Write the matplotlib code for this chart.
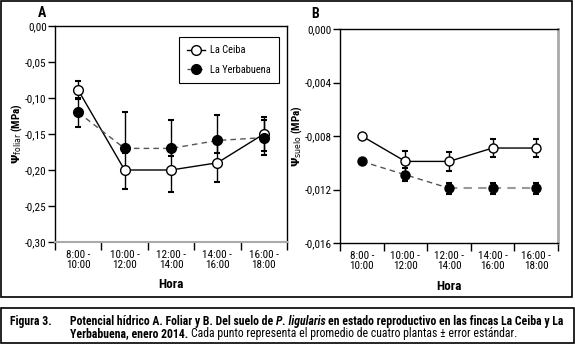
import matplotlib
matplotlib.use("Agg")
import matplotlib.pyplot as plt
from matplotlib import font_manager
from matplotlib.patches import Rectangle
from matplotlib.ticker import FuncFormatter
import numpy as np

hours = ["8:00 -\n10:00", "10:00 -\n12:00", "12:00 -\n14:00", "14:00 -\n16:00", "16:00 -\n18:00"]
series = ["La Ceiba", "La Yerbabuena"]

# A. foliar water potential (MPa)
foliar_ticks = [-0.30, -0.25, -0.20, -0.15, -0.10, -0.05, 0.0]
ceiba_foliar = [-0.089, -0.200, -0.200, -0.190, -0.150]
ceiba_foliar_err = [0.012, 0.027, 0.030, 0.026, 0.024]
yerba_foliar = [-0.120, -0.170, -0.170, -0.159, -0.155]
yerba_foliar_err_lo = [0.020, 0.006, 0.011, 0.017, 0.024]
yerba_foliar_err_hi = [0.020, 0.050, 0.040, 0.035, 0.024]

# B. soil water potential (MPa)
suelo_ticks = [-0.016, -0.012, -0.008, -0.004, 0.0]
ceiba_suelo = [-0.0080, -0.0099, -0.0099, -0.0089, -0.0089]
ceiba_suelo_err = [0.0, 0.0008, 0.0007, 0.0007, 0.0007]
yerba_suelo = [-0.0099, -0.0109, -0.0119, -0.0119, -0.0119]
yerba_suelo_err = [0.0, 0.0005, 0.0004, 0.0004, 0.0004]

# pick a narrow font if one is installed
names = {f.name for f in font_manager.fontManager.ttflist}
cands = ["Liberation Sans Narrow", "Noto Sans Condensed", "Roboto Condensed",
         "Open Sans Condensed", "DejaVu Sans Condensed", "Liberation Sans"]
FONT = next((c for c in cands if c in names), "DejaVu Sans")
if FONT == "Liberation Sans":
    dv_cond = [f for f in font_manager.fontManager.ttflist
               if f.name == "DejaVu Sans" and f.stretch == "condensed"]
    if dv_cond:
        FONT = "DejaVu Sans"
        plt.rcParams["font.stretch"] = "condensed"
plt.rcParams["font.family"] = [FONT, "DejaVu Sans"]
plt.rcParams["mathtext.fontset"] = "dejavusans"

W, H = 575, 346
fig = plt.figure(figsize=(W / 100, H / 100), dpi=100)


def px_axes(l, r, t, b):
    return fig.add_axes([l / W, (H - b) / H, (r - l) / W, (b - t) / H])


def setup(ax, ylim, yticks, fmt):
    ax.set_xlim(0, 5)
    ax.set_ylim(*ylim)
    ax.set_yticks(yticks)
    ax.yaxis.set_major_formatter(FuncFormatter(lambda v, p: fmt.format(v).replace(".", ",")))
    ax.set_xticks(np.arange(6))
    ax.set_xticklabels([])
    ax.set_xticks(np.arange(5) + 0.5, minor=True)
    ax.set_xticklabels(hours, minor=True, fontsize=8, linespacing=0.95)
    ax.tick_params(axis="x", which="major", length=6, width=1, direction="out")
    ax.tick_params(axis="x", which="minor", length=0, pad=6)
    ax.tick_params(axis="y", length=5, width=1, labelsize=8, pad=1)
    for s in ax.spines.values():
        s.set_linewidth(1)


x = np.arange(len(hours)) + 0.5
ebar = dict(fmt="none", ecolor="black", elinewidth=1, capsize=2, capthick=1.5, zorder=2)

# Panel A
axA = px_axes(55, 287, 26, 242)
setup(axA, (-0.30, 0.0), foliar_ticks, "{:.2f}")
axA.spines["bottom"].set_color("#aaaaaa")
axA.spines["bottom"].set_linewidth(1.5)
axA.errorbar(x, ceiba_foliar, yerr=ceiba_foliar_err, **ebar)
axA.errorbar(x, yerba_foliar, yerr=[yerba_foliar_err_lo, yerba_foliar_err_hi], **ebar)
axA.plot(x, ceiba_foliar, "-o", color="black", lw=1, ms=7, mfc="white", mec="black",
         mew=1, label=series[0], zorder=3)
axA.plot(x, yerba_foliar, "--o", color="#555555", lw=1, dashes=(4, 3), ms=7, mfc="black",
         mec="black", label=series[1], zorder=3)
leg = axA.legend(loc="upper right", bbox_to_anchor=(0.966, 0.949), borderaxespad=0,
                 fontsize=7.5, fancybox=False, framealpha=1, edgecolor="black",
                 handlelength=1.7, labelspacing=0.9, borderpad=0.8, handletextpad=0.5)
leg.get_frame().set_linewidth(0.8)
axA.set_ylabel(r"$\mathbf{\Psi}_{\mathrm{foliar}}$ (MPa)", fontsize=8, fontweight="bold")
axA.yaxis.set_label_coords(-0.134, 0.5)
axA.set_xlabel("Hora", fontsize=9.5, fontweight="bold")
axA.xaxis.set_label_coords(0.5, -0.167)

# Panel B
axB = px_axes(340, 558, 29, 243)
setup(axB, (-0.016, 0.0), suelo_ticks, "{:.3f}")
axB.spines["right"].set_color("#aaaaaa")
axB.spines["right"].set_linewidth(2)
axB.errorbar(x, ceiba_suelo, yerr=ceiba_suelo_err, **ebar)
axB.errorbar(x, yerba_suelo, yerr=yerba_suelo_err, **ebar)
axB.plot(x, ceiba_suelo, "-o", color="black", lw=1, ms=6.5, mfc="white", mec="black",
         mew=1, zorder=3)
axB.plot(x[:3], yerba_suelo[:3], "--", color="#555555", lw=1, dashes=(4, 3), zorder=3)
axB.plot(x[2:], yerba_suelo[2:], "--", color="#9a9a9a", lw=1.5, dashes=(4, 3), zorder=3)
axB.plot(x, yerba_suelo, "o", ms=6.5, mfc="black", mec="black", zorder=4)
axB.set_ylabel(r"$\mathbf{\Psi}_{\mathrm{suelo}}$ (MPa)", fontsize=8, fontweight="bold")
axB.yaxis.set_label_coords(-0.165, 0.5)
axB.set_xlabel("Hora", fontsize=9.5, fontweight="bold")
axB.xaxis.set_label_coords(0.5, -0.173)

fig.text(42 / W, 1 - 13 / H, "A", fontsize=10, fontweight="bold", ha="center", va="center")
fig.text(315 / W, 1 - 14 / H, "B", fontsize=10, fontweight="bold", ha="center", va="center")

# frames
fig.patches.append(Rectangle((0.8 / W, (H - 297) / H), 571.5 / W, 296 / H, fill=False,
                             lw=1.2, ec="black", transform=fig.transFigure, figure=fig))
fig.patches.append(Rectangle((1 / W, (H - 343) / H), 573 / W, 35 / H, fill=False,
                             lw=1.2, ec="black", transform=fig.transFigure, figure=fig))

# caption, laid out run by run
renderer = fig.canvas.get_renderer()


def width_of(s, **kw):
    t = fig.text(0, 0, s, **kw)
    w = t.get_window_extent(renderer).width
    t.remove()
    return w


def space_of(fs, wt):
    return width_of("x x", fontsize=fs, fontweight=wt) - width_of("xx", fontsize=fs, fontweight=wt)


line1 = [("Potencial hídrico A. Foliar y B. Del suelo de", "bold", "normal"),
         ("P. ligularis", "bold", "italic"),
         ("en estado reproductivo en las fincas La Ceiba y La", "bold", "normal")]
line2 = [("Yerbabuena, enero 2014.", "bold", "normal"),
         ("Cada punto representa el promedio de cuatro plantas ± error estándar.", "normal", "normal")]


def run_width(runs, fs):
    total = 0
    for i, (s, wt, st) in enumerate(runs):
        total += width_of(s, fontsize=fs, fontweight=wt, fontstyle=st)
        if i:
            total += space_of(fs, wt)
    return total


fs = 8 * 495 / run_width(line1, 8)


def place(runs, x0, ybase):
    xx = x0
    for i, (s, wt, st) in enumerate(runs):
        if i:
            xx += space_of(fs, wt)
        t = fig.text(xx / W, (H - ybase) / H, s, fontsize=fs, fontweight=wt, fontstyle=st,
                     va="baseline", ha="left")
        xx += t.get_window_extent(renderer).width


fig.text(10 / W, (H - 325.5) / H, "Figura 3.", fontsize=fs, fontweight="bold", va="baseline")
place(line1, 70, 325.5)
place(line2, 70, 337)

fig.savefig("out.png", dpi=100)
